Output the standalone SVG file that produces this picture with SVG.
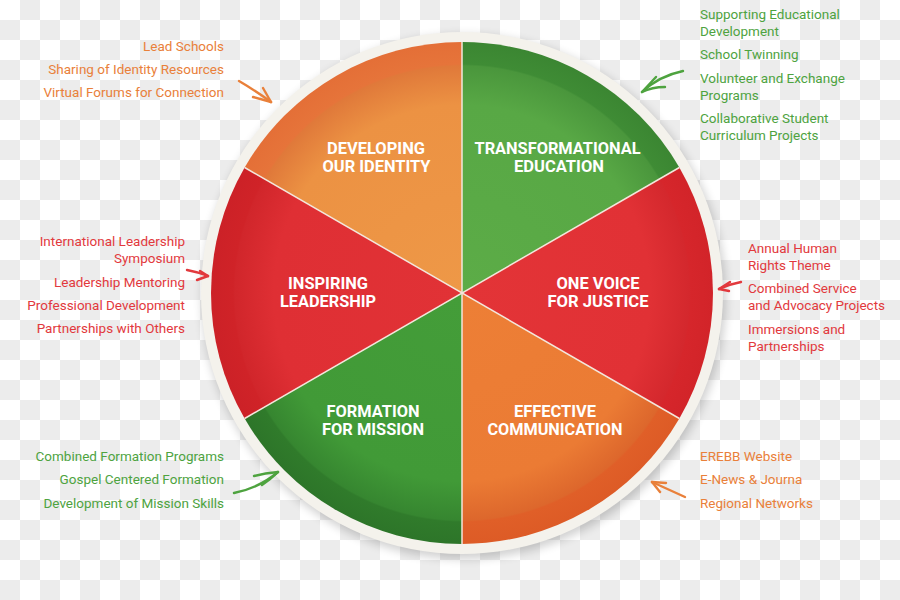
<svg xmlns="http://www.w3.org/2000/svg" width="900" height="600" viewBox="0 0 900 600">
  <defs>
    <pattern id="chk" width="40" height="40" patternUnits="userSpaceOnUse">
      <rect width="40" height="40" fill="#ffffff"/>
      <rect x="20" y="0" width="20" height="20" fill="#ececec"/>
      <rect x="0" y="20" width="20" height="20" fill="#ececec"/>
    </pattern>
    <filter id="shadow" x="-20%" y="-20%" width="140%" height="140%">
      <feGaussianBlur stdDeviation="5"/>
    </filter>
    <radialGradient id="gOrange1" gradientUnits="userSpaceOnUse" cx="462" cy="293" r="251">
      <stop offset="0" stop-color="#ee9847"/>
      <stop offset="0.75" stop-color="#ec9243"/>
      <stop offset="0.905" stop-color="#e0793a"/>
      <stop offset="0.912" stop-color="#e6743a"/>
      <stop offset="1" stop-color="#e46f37"/>
    </radialGradient>
    <radialGradient id="gGreen1" gradientUnits="userSpaceOnUse" cx="462" cy="293" r="251">
      <stop offset="0" stop-color="#5cac47"/>
      <stop offset="0.75" stop-color="#58a845"/>
      <stop offset="0.905" stop-color="#4a963c"/>
      <stop offset="0.912" stop-color="#3f8c35"/>
      <stop offset="1" stop-color="#3b8632"/>
    </radialGradient>
    <radialGradient id="gRed1" gradientUnits="userSpaceOnUse" cx="462" cy="293" r="251">
      <stop offset="0" stop-color="#e33437"/>
      <stop offset="0.75" stop-color="#e13135"/>
      <stop offset="0.905" stop-color="#d4282d"/>
      <stop offset="0.912" stop-color="#d6262b"/>
      <stop offset="1" stop-color="#d22429"/>
    </radialGradient>
    <radialGradient id="gOrange2" gradientUnits="userSpaceOnUse" cx="462" cy="293" r="251">
      <stop offset="0" stop-color="#ed7f36"/>
      <stop offset="0.75" stop-color="#eb7b34"/>
      <stop offset="0.905" stop-color="#dd672c"/>
      <stop offset="0.912" stop-color="#e05f28"/>
      <stop offset="1" stop-color="#dd5b26"/>
    </radialGradient>
    <radialGradient id="gGreen2" gradientUnits="userSpaceOnUse" cx="462" cy="293" r="251">
      <stop offset="0" stop-color="#449d39"/>
      <stop offset="0.75" stop-color="#419a37"/>
      <stop offset="0.905" stop-color="#368630"/>
      <stop offset="0.912" stop-color="#307b2b"/>
      <stop offset="1" stop-color="#2d7529"/>
    </radialGradient>
    <radialGradient id="gRed2" gradientUnits="userSpaceOnUse" cx="462" cy="293" r="251">
      <stop offset="0" stop-color="#e13236"/>
      <stop offset="0.75" stop-color="#df2f34"/>
      <stop offset="0.905" stop-color="#d1262b"/>
      <stop offset="0.912" stop-color="#d02328"/>
      <stop offset="1" stop-color="#cc2127"/>
    </radialGradient>
    <style>
      .lbl { font-family: Roboto, "Liberation Sans", sans-serif; font-weight: bold; font-size: 16px; fill: #ffffff; text-anchor: middle; }
      .side { font-family: Roboto, "Liberation Sans", sans-serif; font-size: 13.5px; }
      .r { text-anchor: end; }
      .l { text-anchor: start; }
      .or { fill: #e9803a; }
      .gr { fill: #4ea33f; }
      .rd { fill: #e2393d; }
      .div { stroke: #f3e6dc; stroke-width: 1.5; fill: none; }
      .arr { fill: none; stroke-width: 2.4; stroke-linecap: round; stroke-linejoin: round; }
    </style>
  </defs>

  <rect width="900" height="600" fill="url(#chk)"/>

  <!-- rim and shadow -->
  <circle cx="464" cy="297" r="262" fill="#000000" opacity="0.18" filter="url(#shadow)"/>
  <circle cx="462" cy="293" r="261" fill="#f4f2ec"/>

  <g id="developing-our-identity">
    <path d="M462,293 L244.63,167.5 A251,251 0 0 1 462,42 Z" fill="url(#gOrange1)"/>
    <text class="lbl" x="376" y="154" textLength="98" lengthAdjust="spacingAndGlyphs">DEVELOPING</text>
    <text class="lbl" x="376.5" y="172" textLength="108" lengthAdjust="spacingAndGlyphs">OUR IDENTITY</text>
  </g>
  <g id="transformational-education">
    <path d="M462,293 L462,42 A251,251 0 0 1 679.37,167.5 Z" fill="url(#gGreen1)"/>
    <text class="lbl" x="557.5" y="154" textLength="166" lengthAdjust="spacingAndGlyphs">TRANSFORMATIONAL</text>
    <text class="lbl" x="559" y="172" textLength="90" lengthAdjust="spacingAndGlyphs">EDUCATION</text>
  </g>
  <g id="one-voice-for-justice">
    <path d="M462,293 L679.37,167.5 A251,251 0 0 1 679.37,418.5 Z" fill="url(#gRed1)"/>
    <text class="lbl" x="598" y="289" textLength="83" lengthAdjust="spacingAndGlyphs">ONE VOICE</text>
    <text class="lbl" x="598" y="307" textLength="101" lengthAdjust="spacingAndGlyphs">FOR JUSTICE</text>
  </g>
  <g id="effective-communication">
    <path d="M462,293 L679.37,418.5 A251,251 0 0 1 462,544 Z" fill="url(#gOrange2)"/>
    <text class="lbl" x="555" y="417" textLength="82" lengthAdjust="spacingAndGlyphs">EFFECTIVE</text>
    <text class="lbl" x="555" y="435" textLength="135" lengthAdjust="spacingAndGlyphs">COMMUNICATION</text>
  </g>
  <g id="formation-for-mission">
    <path d="M462,293 L462,544 A251,251 0 0 1 244.63,418.5 Z" fill="url(#gGreen2)"/>
    <text class="lbl" x="373" y="417" textLength="93" lengthAdjust="spacingAndGlyphs">FORMATION</text>
    <text class="lbl" x="373" y="435" textLength="102" lengthAdjust="spacingAndGlyphs">FOR MISSION</text>
  </g>
  <g id="inspiring-leadership">
    <path d="M462,293 L244.63,418.5 A251,251 0 0 1 244.63,167.5 Z" fill="url(#gRed2)"/>
    <text class="lbl" x="328" y="289" textLength="80" lengthAdjust="spacingAndGlyphs">INSPIRING</text>
    <text class="lbl" x="328" y="307" textLength="96" lengthAdjust="spacingAndGlyphs">LEADERSHIP</text>
  </g>

  <g id="dividers">
    <path class="div" d="M462,42 L462,544"/>
    <path class="div" d="M244.63,167.5 L679.37,418.5"/>
    <path class="div" d="M244.63,418.5 L679.37,167.5"/>
  </g>

  <!-- side lists -->
  <g id="list-identity" class="side r or">
    <text x="224" y="51">Lead Schools</text>
    <text x="224" y="74">Sharing of Identity Resources</text>
    <text x="224" y="97">Virtual Forums for Connection</text>
  </g>
  <g id="list-education" class="side l gr">
    <text x="700" y="19">Supporting Educational</text>
    <text x="700" y="36">Development</text>
    <text x="700" y="59">School Twinning</text>
    <text x="700" y="83">Volunteer and Exchange</text>
    <text x="700" y="100">Programs</text>
    <text x="700" y="123">Collaborative Student</text>
    <text x="700" y="140">Curriculum Projects</text>
  </g>
  <g id="list-leadership" class="side r rd">
    <text x="185" y="246">International Leadership</text>
    <text x="185" y="263">Symposium</text>
    <text x="185" y="287">Leadership Mentoring</text>
    <text x="185" y="310">Professional Development</text>
    <text x="185" y="333">Partnerships with Others</text>
  </g>
  <g id="list-justice" class="side l rd">
    <text x="748" y="253">Annual Human</text>
    <text x="748" y="270">Rights Theme</text>
    <text x="748" y="293">Combined Service</text>
    <text x="748" y="310">and Advocacy Projects</text>
    <text x="748" y="334">Immersions and</text>
    <text x="748" y="351">Partnerships</text>
  </g>
  <g id="list-mission" class="side r gr">
    <text x="224" y="461">Combined Formation Programs</text>
    <text x="224" y="484">Gospel Centered Formation</text>
    <text x="224" y="508">Development of Mission Skills</text>
  </g>
  <g id="list-communication" class="side l or">
    <text x="700" y="461">EREBB Website</text>
    <text x="700" y="484">E-News &amp; Journa</text>
    <text x="700" y="508">Regional Networks</text>
  </g>

  <!-- connectors -->
  <g id="connectors" class="arr">
    <g stroke="#e9803a">
      <path d="M239,81 Q256,91 271,102"/>
      <path d="M271,102 L253,97"/>
      <path d="M271,102 L263,88"/>
    </g>
    <g stroke="#4ea33f">
      <path d="M683,71 Q659,76 642,92"/>
      <path d="M642,92 Q652,87 665,87"/>
      <path d="M642,92 L656,77"/>
    </g>
    <g stroke="#e2393d">
      <path d="M187,270 Q198,272 208,276"/>
      <path d="M208,276 L197,280"/>
      <path d="M208,276 L200,271"/>
    </g>
    <g stroke="#e2393d">
      <path d="M741,282 Q730,284 719,289"/>
      <path d="M719,289 L730,282"/>
      <path d="M719,289 L729,291"/>
    </g>
    <g stroke="#4ea33f">
      <path d="M234,493 Q259,488 278,472"/>
      <path d="M278,472 Q265,473 254,476"/>
      <path d="M278,472 Q270,480 262,485"/>
    </g>
    <g stroke="#e9803a">
      <path d="M685,497 L652,482"/>
      <path d="M652,482 L666,483"/>
      <path d="M652,482 L660,492"/>
    </g>
  </g>
</svg>
